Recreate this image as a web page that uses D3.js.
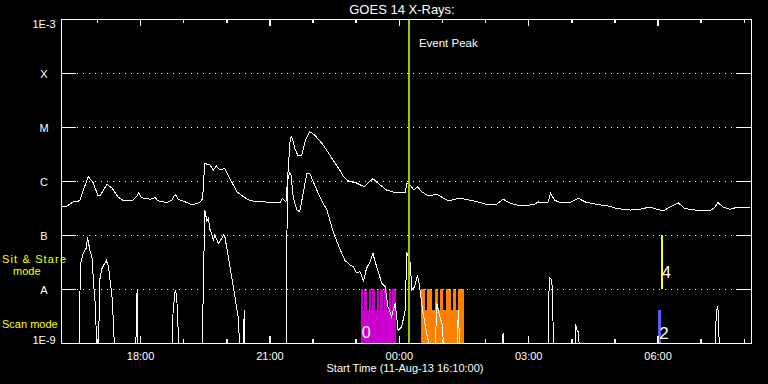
<!DOCTYPE html>
<html>
<head>
<meta charset="utf-8">
<script src="https://cdn.jsdelivr.net/npm/d3@7"></script>
<style>
  body { margin: 0; background: #000; }
  svg { display: block; }
  text { font-family: "Liberation Sans", Arial, sans-serif; }
</style>
</head>
<body>
<div id="chart"></div>
<script>
// GOES 14 X-ray flux, 11-Aug-13 16:10 -> 12-Aug-13 08:10
var startTime = "16:10"
var endTime = "08:10"

var levelValues = [1e-9, 1e-8, 1e-7, 1e-6, 1e-5, 1e-4, 1e-3]
var levelLabels = ["1E-9", "A", "B", "C", "M", "X", "1E-3"]

// long channel (1-8 A), [time, W/m2]
var longChannel = [
  ["16:10", 3.3e-7], ["16:18", 3.4e-7], ["16:27", 4.1e-7], ["16:36", 4.3e-7], ["16:41", 6.8e-7],
  ["16:48", 1.2e-6], ["16:55", 9.2e-7], ["17:01", 5.5e-7], ["17:05", 5.5e-7], ["17:14", 8.7e-7],
  ["17:21", 7.4e-7], ["17:29", 5.1e-7], ["17:36", 4.4e-7], ["17:50", 4.4e-7], ["17:55", 5.1e-7],
  ["17:58", 6.1e-7], ["18:02", 4.9e-7], ["18:14", 4.6e-7], ["18:21", 4.9e-7], ["18:25", 4.3e-7],
  ["18:37", 4.0e-7], ["18:44", 4.4e-7], ["18:49", 5.7e-7], ["18:53", 4.6e-7], ["19:03", 4.1e-7],
  ["19:12", 3.6e-7], ["19:23", 4.0e-7], ["19:27", 4.7e-7], ["19:30", 2.1e-6], ["19:37", 2.0e-6],
  ["19:42", 1.6e-6], ["19:46", 1.9e-6], ["19:51", 1.6e-6], ["19:58", 1.7e-6], ["20:05", 1.1e-6],
  ["20:15", 6.3e-7], ["20:24", 5.1e-7], ["20:33", 4.3e-7], ["20:51", 4.1e-7], ["21:15", 4.0e-7],
  ["21:18", 4.8e-7], ["21:23", 4.1e-7], ["21:25", 9.7e-7], ["21:29", 6.2e-6], ["21:31", 6.6e-6],
  ["21:36", 3.8e-6], ["21:40", 2.9e-6], ["21:45", 3.0e-6], ["21:50", 5.7e-6], ["21:56", 8.2e-6],
  ["22:03", 7.1e-6], ["22:15", 4.6e-6], ["22:29", 2.4e-6], ["22:39", 1.5e-6], ["22:43", 1.2e-6],
  ["22:50", 1.0e-6], ["23:01", 9.2e-7], ["23:12", 7.8e-7], ["23:18", 9.5e-7], ["23:24", 1.1e-6],
  ["23:31", 9.1e-7], ["23:43", 6.8e-7], ["23:55", 6.1e-7], ["00:09", 6.1e-7], ["00:11", 9.1e-7],
  ["00:16", 8.4e-7], ["00:21", 6.8e-7], ["00:26", 7.8e-7], ["00:32", 6.3e-7], ["00:41", 5.3e-7],
  ["00:53", 5.7e-7], ["01:02", 4.8e-7], ["01:09", 4.3e-7], ["01:25", 4.8e-7], ["01:44", 4.3e-7],
  ["02:02", 3.7e-7], ["02:16", 3.7e-7], ["02:25", 4.6e-7], ["02:35", 3.9e-7], ["02:44", 3.6e-7],
  ["02:58", 3.5e-7], ["03:09", 3.7e-7], ["03:14", 4.1e-7], ["03:19", 3.9e-7], ["03:28", 4.1e-7],
  ["03:31", 5.9e-7], ["03:37", 4.4e-7], ["03:44", 4.0e-7], ["03:58", 4.0e-7], ["04:10", 4.8e-7],
  ["04:19", 4.1e-7], ["04:35", 3.7e-7], ["04:54", 3.4e-7], ["05:03", 3.1e-7], ["05:22", 2.9e-7],
  ["05:35", 3.0e-7], ["05:50", 3.3e-7], ["05:59", 3.0e-7], ["06:08", 2.8e-7], ["06:17", 3.3e-7],
  ["06:29", 3.9e-7], ["06:38", 3.1e-7], ["06:45", 3.0e-7], ["06:59", 2.8e-7], ["07:13", 2.8e-7],
  ["07:20", 3.3e-7], ["07:24", 4.0e-7], ["07:31", 3.3e-7], ["07:41", 3.0e-7], ["07:52", 3.3e-7],
  ["08:09", 3.2e-7]
]

// short channel (0.5-4 A), values under 1E-9 fall off the bottom
var shortChannel = [
  ["16:10", 5e-10], ["16:35", 5e-10], ["16:37", 2.8e-8], ["16:41", 4.6e-8], ["16:45", 5.7e-8],
  ["16:47", 9.1e-8], ["16:50", 5.3e-8], ["16:53", 4.0e-8], ["16:56", 9.6e-9], ["16:58", 4.7e-9],
  ["17:00", 5e-10], ["17:02", 6e-10], ["17:04", 1.5e-8], ["17:07", 2.4e-8], ["17:13", 3.4e-8],
  ["17:16", 2.6e-8], ["17:21", 7.2e-9], ["17:23", 2.3e-9], ["17:25", 5e-10], ["17:54", 5e-10],
  ["17:55", 6.0e-9], ["17:56", 9.6e-9], ["17:57", 5e-10], ["18:44", 5e-10], ["18:46", 4.1e-9],
  ["18:49", 9.6e-9], ["18:51", 7.2e-9], ["18:53", 1.7e-9], ["18:55", 5e-10], ["19:26", 5e-10],
  ["19:28", 9.6e-9], ["19:30", 2.9e-7], ["19:33", 1.8e-7], ["19:35", 2.0e-7], ["19:37", 1.3e-7],
  ["19:40", 1.0e-7], ["19:42", 8.1e-8], ["19:44", 1.0e-7], ["19:49", 7.0e-8], ["19:54", 8.7e-8],
  ["19:56", 1.0e-7], ["19:58", 9.3e-8], ["20:05", 2.6e-8], ["20:12", 7.2e-9], ["20:17", 2.7e-9],
  ["20:19", 5e-10], ["20:23", 5e-10], ["20:25", 4.1e-9], ["20:26", 5e-10], ["21:23", 5e-10],
  ["21:25", 9.7e-7], ["21:28", 1.4e-6], ["21:30", 1.3e-6], ["21:33", 5.1e-7], ["21:38", 2.9e-7],
  ["21:42", 2.7e-7], ["21:47", 5.9e-7], ["21:52", 1.4e-6], ["21:56", 1.4e-6], ["22:03", 8.4e-7],
  ["22:10", 5.1e-7], ["22:20", 2.9e-7], ["22:29", 1.1e-7], ["22:38", 5.5e-8], ["22:45", 3.4e-8],
  ["22:52", 2.8e-8], ["22:57", 2.6e-8], ["23:01", 2.0e-8], ["23:06", 2.1e-8], ["23:11", 1.4e-8],
  ["23:15", 2.4e-8], ["23:20", 3.2e-8], ["23:24", 4.6e-8], ["23:27", 3.2e-8], ["23:31", 2.2e-8],
  ["23:36", 1.3e-8], ["23:41", 1.1e-8], ["23:45", 4.7e-9], ["23:50", 3.1e-9], ["23:55", 5.4e-9],
  ["23:59", 1.7e-9], ["00:04", 2.0e-9], ["00:09", 4.1e-9], ["00:11", 4.9e-8], ["00:16", 3.0e-8],
  ["00:18", 9.6e-9], ["00:22", 1.1e-8], ["00:26", 1.8e-8], ["00:29", 1.1e-8], ["00:33", 4.1e-9],
  ["00:38", 1.7e-9], ["00:41", 1.1e-9], ["00:43", 5e-10], ["00:50", 5e-10], ["00:53", 5.4e-9],
  ["00:57", 3.1e-9], ["01:00", 2.3e-9], ["01:04", 5e-10], ["01:20", 5e-10], ["01:23", 4.1e-9],
  ["01:25", 5e-10], ["02:24", 5e-10], ["02:25", 1.5e-9], ["02:26", 5e-10], ["03:28", 5e-10],
  ["03:29", 9.6e-9], ["03:30", 1.6e-8], ["03:33", 1.5e-8], ["03:34", 3.6e-9], ["03:37", 5e-10],
  ["04:05", 5e-10], ["04:06", 2.2e-9], ["04:08", 1.7e-9], ["04:10", 1.6e-9], ["04:12", 5e-10],
  ["07:20", 5e-10], ["07:21", 2.3e-9], ["07:23", 4.8e-9], ["07:25", 3.5e-9], ["07:26", 5e-10],
  ["08:10", 5e-10]
]

var eventPeak = "00:14"

// scan mode runs and the short breaks between images
var scanRuns = [
  { start: "23:07", end: "23:56", gapMin: 2, label: "0" },
  { start: "00:31", end: "01:31", gapMin: 3.7, label: "" }
]
var scanGaps = [
  ["23:11", "23:17", "23:22", "23:28", "23:33", "23:39", "23:45", "23:50"],
  ["00:38", "00:48", "00:56", "01:04", "01:14", "01:21"]
]
var singleScan = { start: "06:01", end: "06:05", label: "2" }
var sitStare = { time: "06:06", label: "4" }

var runColors = ["#cc00cc", "#ff8000"]

// --- helpers
function toDate(hm) {
  var p = hm.split(":")
  var h = +p[0], m = +p[1]
  return new Date(2013, 7, h >= 16 ? 11 : 12, h, m)
}

var width = 768, height = 384
// note: "top" is taken by window.top, so use plot* names
var plotL = 61, plotR = 751, plotT = 19, plotB = 343

var svg = d3.select("#chart").append("svg")
  .attr("width", width).attr("height", height)
  .style("background", "#000")

var x = d3.scaleTime().domain([toDate(startTime), toDate(endTime)]).range([plotL, plotR])
var y = d3.scaleLog().domain([1e-9, 1e-3]).range([plotB, plotT])

svg.append("clipPath").attr("id", "plotclip")
  .append("rect").attr("x", plotL).attr("y", plotT)
  .attr("width", plotR - plotL).attr("height", plotB - plotT)

// scan mode blocks (between 1E-9 and A)
var bandTop = y(1e-8), bandBot = y(1e-9)
var tineDepth = (bandBot - bandTop) * 0.39
var pxPerMin = (plotR - plotL) / (16 * 60)

scanRuns.forEach(function(run, i) {
  svg.append("rect")
    .attr("x", x(toDate(run.start)))
    .attr("y", bandTop)
    .attr("width", x(toDate(run.end)) - x(toDate(run.start)))
    .attr("height", bandBot - bandTop)
    .attr("fill", runColors[i])
    .attr("shape-rendering", "crispEdges")
  scanGaps[i].forEach(function(t) {
    var cx = x(toDate(t))
    var w = run.gapMin * pxPerMin
    svg.append("rect")
      .attr("x", cx - w / 2).attr("y", bandTop)
      .attr("width", w).attr("height", tineDepth)
      .attr("fill", "#000")
      .attr("shape-rendering", "crispEdges")
  })
})

svg.append("rect")
  .attr("x", x(toDate(singleScan.start)))
  .attr("y", bandTop + tineDepth)
  .attr("width", x(toDate(singleScan.end)) - x(toDate(singleScan.start)))
  .attr("height", bandBot - bandTop - tineDepth)
  .attr("fill", "#5a5aff")
  .attr("shape-rendering", "crispEdges")

// sit & stare marker between A and B
svg.append("line")
  .attr("x1", x(toDate(sitStare.time))).attr("x2", x(toDate(sitStare.time)))
  .attr("y1", y(1e-7)).attr("y2", y(1e-8))
  .attr("stroke", "#ffff00").attr("stroke-width", 2)
  .attr("shape-rendering", "crispEdges")

// dotted grid at each level
svg.append("g").selectAll("line")
  .data(levelValues.slice(1, -1))
  .enter().append("line")
  .attr("x1", plotL + 16).attr("x2", plotR - 15)
  .attr("y1", function(d) { return Math.round(y(d)) + 0.5 })
  .attr("y2", function(d) { return Math.round(y(d)) + 0.5 })
  .attr("stroke", "#fff").attr("stroke-width", 1)
  .attr("stroke-dasharray", "1,5")

// flux curves
var line = d3.line()
  .x(function(d) { return x(toDate(d[0])) })
  .y(function(d) { return y(d[1]) })

var curves = svg.append("g").attr("clip-path", "url(#plotclip)")
curves.append("path").datum(longChannel)
  .attr("d", line).attr("fill", "none").attr("stroke", "#fff").attr("stroke-width", 1)
  .attr("shape-rendering", "crispEdges")
curves.append("path").datum(shortChannel)
  .attr("d", line).attr("fill", "none").attr("stroke", "#fff").attr("stroke-width", 1)
  .attr("shape-rendering", "crispEdges")

// event peak
var xp = x(toDate(eventPeak))
svg.append("line")
  .attr("x1", xp).attr("x2", xp).attr("y1", plotT).attr("y2", plotB)
  .attr("stroke", "#99cc00").attr("stroke-width", 2)
  .attr("shape-rendering", "crispEdges")
svg.append("text")
  .attr("x", xp + 10).attr("y", 47)
  .attr("fill", "#fff").attr("font-size", "11.5px")
  .text("Event Peak")

// scan numbers
svg.append("text").attr("x", x(toDate(scanRuns[0].start)) + 1).attr("y", 338)
  .attr("fill", "#fff").attr("font-size", "16px").text(scanRuns[0].label)
svg.append("text").attr("x", x(toDate(singleScan.start)) + 1).attr("y", 339)
  .attr("fill", "#fff").attr("font-size", "17px").text(singleScan.label)
svg.append("text").attr("x", x(toDate(sitStare.time))).attr("y", 278)
  .attr("fill", "#fff").attr("font-size", "16px").text(sitStare.label)

// axes
var hours = d3.timeHour.range(new Date(2013, 7, 11, 17), toDate(endTime))
var fmt = d3.timeFormat("%H:%M")
function isMajor(d) { return d.getHours() % 3 === 0 }

var xb = svg.append("g").attr("transform", "translate(0," + plotB + ")")
  .call(d3.axisBottom(x).tickValues(hours).tickSizeInner(-4).tickSizeOuter(0).tickPadding(9)
    .tickFormat(function(d) { return isMajor(d) ? fmt(d) : "" }))
xb.selectAll(".tick line").attr("y2", function(d) { return isMajor(d) ? -7 : -4 })

var xt = svg.append("g").attr("transform", "translate(0," + plotT + ")")
  .call(d3.axisTop(x).tickValues(hours).tickSizeInner(-4).tickSizeOuter(0).tickFormat(""))
xt.selectAll(".tick line").attr("y2", function(d) { return isMajor(d) ? 7 : 4 })

var yl = svg.append("g").attr("transform", "translate(" + plotL + ",0)")
  .call(d3.axisLeft(y).tickValues(levelValues).tickSizeInner(-15).tickSizeOuter(0).tickPadding(17)
    .tickFormat(function(d, i) { return levelLabels[i] }))
yl.selectAll("text").attr("text-anchor", "middle")
  .attr("dy", function(d, i) { return i === levelValues.length - 1 ? "8px" : (i === 0 ? "0px" : "4px") })

var yr = svg.append("g").attr("transform", "translate(" + plotR + ",0)")
  .call(d3.axisRight(y).tickValues(levelValues).tickSizeInner(-15).tickSizeOuter(0).tickFormat(""))

;[xb, xt, yl, yr].forEach(function(g) {
  g.attr("color", "#fff")
    .attr("font-family", "Liberation Sans, Arial, sans-serif")
    .attr("font-size", "11px")
  g.selectAll("path, line").attr("stroke-width", 1.5).attr("shape-rendering", "crispEdges")
})

// titles and mode labels
svg.append("text").attr("x", 402).attr("y", 14)
  .attr("text-anchor", "middle").attr("fill", "#fff").attr("font-size", "13px")
  .text("GOES 14 X-Rays:")
svg.append("text").attr("x", 405).attr("y", 372)
  .attr("text-anchor", "middle").attr("fill", "#fff").attr("font-size", "11px")
  .text("Start Time (11-Aug-13 16:10:00)")

svg.append("text").attr("x", 2).attr("y", 263)
  .attr("fill", "#ffff00").attr("font-size", "11px")
  .attr("textLength", 64).text("Sit & Stare")
svg.append("text").attr("x", 13).attr("y", 275)
  .attr("fill", "#ffff00").attr("font-size", "11px").text("mode")
svg.append("text").attr("x", 2).attr("y", 328)
  .attr("fill", "#ffff00").attr("font-size", "11px").text("Scan mode")
</script>
</body>
</html>
